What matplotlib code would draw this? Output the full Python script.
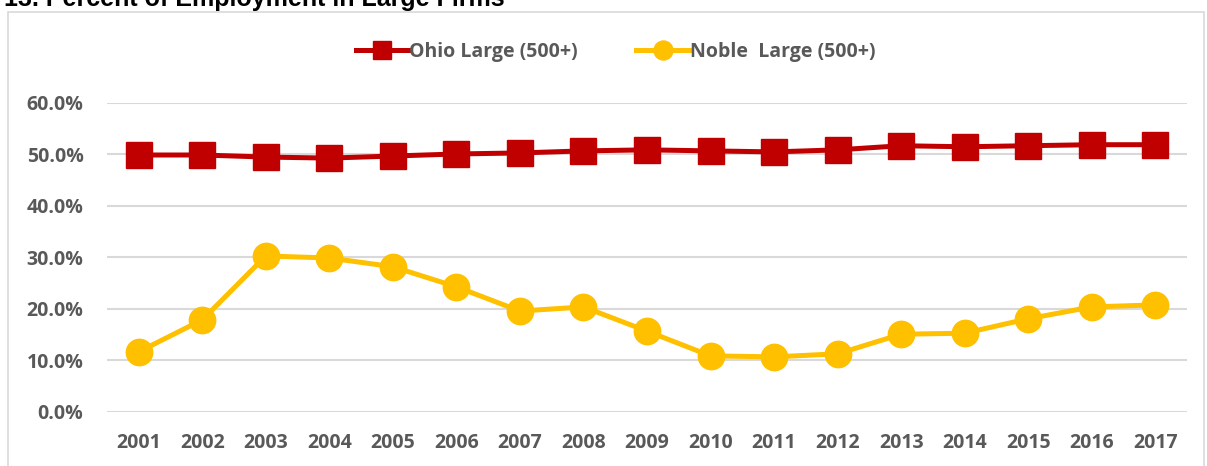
import matplotlib.pyplot as plt
from matplotlib.patches import Rectangle
from matplotlib.ticker import PercentFormatter

years = ['2001', '2002', '2003', '2004', '2005', '2006', '2007', '2008', '2009',
         '2010', '2011', '2012', '2013', '2014', '2015', '2016', '2017']
ohio = [49.9, 49.9, 49.5, 49.3, 49.7, 50.1, 50.3, 50.7, 50.9,
        50.7, 50.5, 50.9, 51.7, 51.5, 51.7, 51.9, 51.9]
noble = [11.7, 17.9, 30.3, 29.9, 28.2, 24.3, 19.6, 20.4, 15.7,
         10.9, 10.7, 11.3, 15.1, 15.3, 18.1, 20.4, 20.8]

gray = '#595959'
fig = plt.figure(figsize=(12.07, 4.66), dpi=100)
ax = fig.add_axes([0.0887, 0.1159, 0.8947, 0.6631])

# chart frame and clipped title
fig.patches.append(Rectangle((8 / 1207, -0.1), 1196 / 1207, 1.1 - 12 / 466,
                             transform=fig.transFigure, fill=False,
                             edgecolor='#D9D9D9', linewidth=1.2))
fig.text(0.003, 1 - 6 / 466, '13. Percent of Employment in Large Firms',
         fontsize=18, fontweight='bold', family='Liberation Sans', va='baseline')

x = range(len(years))
ax.plot(x, ohio, color='#C00000', linewidth=3.6, marker='s', markersize=18.5,
        label='Ohio Large (500+)', zorder=3)
ax.plot(x, noble, color='#FFC000', linewidth=3.6, marker='o', markersize=19,
        label='Noble  Large (500+)', zorder=3)

ax.set_xlim(-0.5, len(years) - 0.5)
ax.set_ylim(0, 60)
ax.set_yticks(range(0, 61, 10))
ax.yaxis.set_major_formatter(PercentFormatter(decimals=1))
ax.set_xticks(list(x))
ax.set_xticklabels(years)
ax.grid(axis='y', color='#D9D9D9', linewidth=1.5)
ax.set_axisbelow(True)
for s in ax.spines.values():
    s.set_visible(False)
ax.tick_params(length=0, labelcolor=gray, labelsize=14)
ax.tick_params(axis='x', pad=15)
ax.tick_params(axis='y', pad=17)
for lab in ax.get_xticklabels() + ax.get_yticklabels():
    lab.set_fontweight('bold')
    lab.set_family('Open Sans')

leg = ax.legend(loc='center', bbox_to_anchor=(0.471, 1.165), ncol=2, frameon=False,
                prop={'family': 'Open Sans', 'size': 14, 'weight': 'bold'},
                handlelength=2.7, columnspacing=3.0, handletextpad=0.05,
                markerscale=0.72)
for t in leg.get_texts():
    t.set_color(gray)

fig.savefig('out.png', dpi=100)
